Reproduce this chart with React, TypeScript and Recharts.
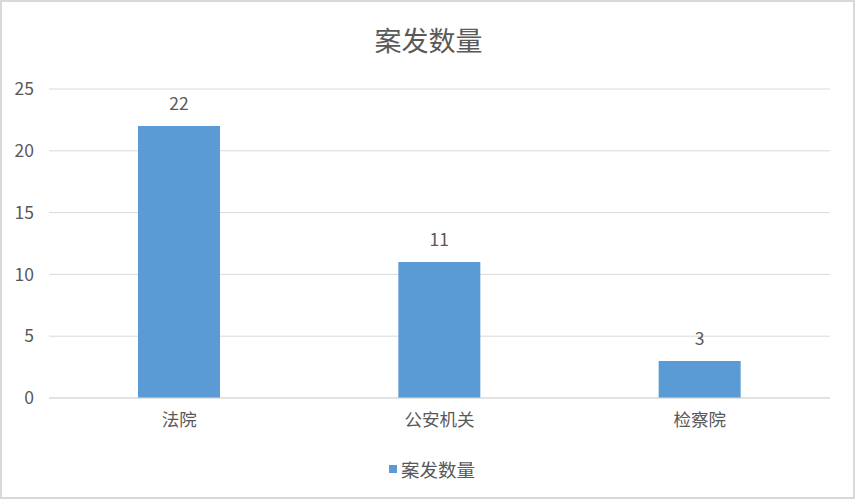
import React from 'react';
import { BarChart, Bar, XAxis, YAxis, CartesianGrid, Legend, LabelList } from 'recharts';

const categories = ['法院', '公安机关', '检察院'];
const caseCounts = [22, 11, 3];
const yTicks = [0, 5, 10, 15, 20, 25];
const seriesName = '案发数量';
const title = '案发数量';

const FONT = "'Noto Sans CJK SC', 'Noto Sans', sans-serif";
const TEXT = '#595959';
const BLUE = '#5B9BD5';

const data = categories.map((name, i) => ({ name, value: caseCounts[i] }));

// legend box spans the plot width, so nudge it right to sit where the original one does
const LegendContent = () => (
  <div style={{ height: 62, boxSizing: 'border-box', paddingTop: 16, paddingLeft: 34, textAlign: 'center', fontFamily: FONT }}>
    <span style={{ display: 'inline-flex', alignItems: 'center', lineHeight: '22px', fontSize: 18.5, color: TEXT }}>
      <span style={{ width: 8, height: 8, background: BLUE, display: 'inline-block', marginRight: 4 }} />
      {seriesName}
    </span>
  </div>
);

export default function App() {
  return (
    <div style={{ position: 'absolute', left: 0, top: 0, width: 857, height: 500, background: '#fff', fontFamily: FONT }}>
      <BarChart
        width={857}
        height={500}
        data={data}
        margin={{ top: 89, right: 27, left: 0, bottom: 0 }}
      >
        <CartesianGrid stroke="#d9d9d9" vertical={false} />
        <XAxis
          dataKey="name"
          height={40}
          stroke="#d9d9d9"
          tickLine={false}
          tickMargin={10}
          tick={{ fill: TEXT, fontSize: 17.5, fontFamily: FONT }}
        />
        <YAxis
          width={49}
          domain={[0, 25]}
          ticks={yTicks}
          axisLine={false}
          tickLine={false}
          tickMargin={9}
          tick={{ fill: TEXT, fontSize: 17.5, fontFamily: FONT }}
        />
        <Legend verticalAlign="bottom" content={<LegendContent />} />
        <Bar dataKey="value" name={seriesName} fill={BLUE} barSize={82} isAnimationActive={false}>
          <LabelList dataKey="value" position="top" offset={16} fill={TEXT} fontSize={17.5} fontFamily={FONT} />
        </Bar>
      </BarChart>
      <div
        style={{
          position: 'absolute', left: 0, top: 26, width: 857, textAlign: 'center',
          fontSize: 27, lineHeight: '27px', color: TEXT, fontFamily: FONT,
        }}
      >
        {title}
      </div>
      <div
        style={{
          position: 'absolute', left: 0, top: 0, width: 855, height: 499,
          border: '2px solid #d9d9d9', boxSizing: 'border-box', pointerEvents: 'none',
        }}
      />
    </div>
  );
}
